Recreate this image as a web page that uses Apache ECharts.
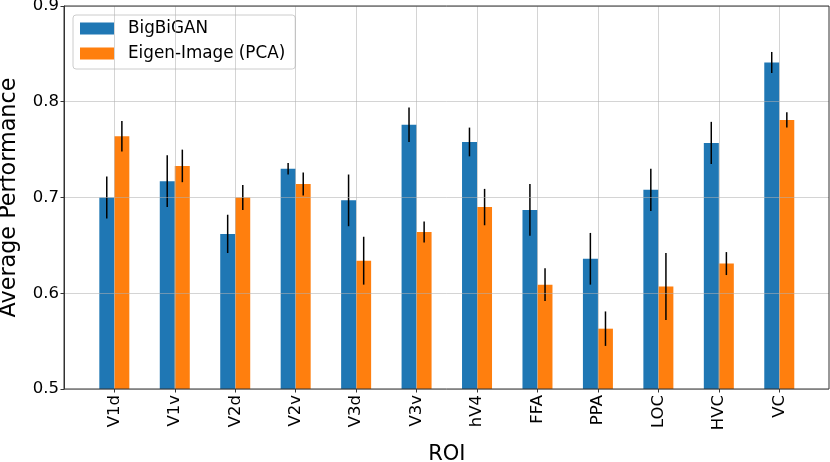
<!DOCTYPE html>
<html>
<head>
<meta charset="utf-8">
<script src="https://cdn.jsdelivr.net/npm/echarts@6/dist/echarts.min.js"></script>
<style>html,body{margin:0;padding:0;background:#fff;}#c{width:830px;height:462px;}</style>
</head>
<body>
<div id="c"></div>
<script>
const categories = ['V1d','V1v','V2d','V2v','V3d','V3v','hV4','FFA','PPA','LOC','HVC','VC'];
const bigbiganMean = [0.700,0.717,0.662,0.730,0.697,0.776,0.758,0.687,0.636,0.708,0.757,0.841];
const bigbiganErr  = [0.022,0.027,0.020,0.006,0.027,0.018,0.015,0.027,0.027,0.022,0.022,0.011];
const pcaMean = [0.764,0.733,0.700,0.714,0.634,0.664,0.690,0.609,0.563,0.607,0.631,0.781];
const pcaErr  = [0.016,0.017,0.013,0.012,0.025,0.011,0.019,0.017,0.018,0.035,0.012,0.008];
const yTicks = [0.5,0.6,0.7,0.8,0.9];

const FONT = 'DejaVu Sans';
const chart = echarts.init(document.getElementById('c'), null, {renderer:'canvas'});

function errSeries(means, errs, side){
  return {
    type:'custom', xAxisIndex:1, yAxisIndex:1, z:4,
    data: means.map((m,i)=>[i, m-errs[i], m+errs[i]]),
    renderItem: function(params, api){
      const i = api.value(0);
      const lo = api.coord([i, api.value(1)]);
      const hi = api.coord([i, api.value(2)]);
      const bw = api.size([1,0])[0];
      const dx = side*bw*0.125;
      return {type:'line', shape:{x1:lo[0]+dx, y1:lo[1], x2:hi[0]+dx, y2:hi[1]},
              style:{stroke:'#000', lineWidth:1.5}};
    }
  };
}

const option = {
  animation:false,
  textStyle:{fontFamily:FONT},
  grid:[
    {left:64, top:6, width:765, height:383, show:true, borderColor:'#333', borderWidth:1, z:10,
     backgroundColor:'transparent', outerBoundsMode:'none', containLabel:false},
    {left:84.1, top:6, width:725.4, height:383, outerBoundsMode:'none', containLabel:false}
  ],
  legend:{
    left:73, top:15, orient:'vertical', itemWidth:34, itemHeight:12, itemGap:6,
    padding:[4,10,6,7], backgroundColor:'rgba(255,255,255,0.8)', borderColor:'#cccccc', borderWidth:1, borderRadius:3,
    icon:'rect',
    textStyle:{fontFamily:FONT, fontSize:16.8, color:'#000', lineHeight:19, padding:[0,0,0,9]},
    data:['BigBiGAN','Eigen-Image (PCA)']
  },
  xAxis:[
    {type:'value', gridIndex:0, min:0, max:1, show:false},
    {type:'category', gridIndex:1, data:categories, boundaryGap:true, z:5,
     axisLine:{show:false},
     axisTick:{show:true, alignWithLabel:true, length:3.5, inside:false, lineStyle:{color:'#333'}},
     axisLabel:{rotate:90, margin:6, fontFamily:FONT, fontSize:16.5, color:'#000'},
     splitLine:{show:true, alignWithLabel:true, lineStyle:{color:'rgba(176,176,176,0.55)', width:1}},
     name:'ROI', nameLocation:'middle', nameGap:55, nameMoveOverlap:false,
     nameTextStyle:{fontFamily:FONT, fontSize:21, color:'#000'}}
  ],
  yAxis:[
    {type:'value', gridIndex:0, min:0.5, max:0.9, interval:0.1, z:5,
     axisLine:{show:true, lineStyle:{color:'#333'}},
     axisTick:{show:true, length:3.5, lineStyle:{color:'#333'}},
     axisLabel:{margin:5, fontFamily:FONT, fontSize:16.5, color:'#000', formatter:v=>v.toFixed(1)},
     splitLine:{show:true, lineStyle:{color:'rgba(176,176,176,0.55)', width:1}},
     name:'Average Performance', nameLocation:'middle', nameGap:44, nameMoveOverlap:false,
     nameTextStyle:{fontFamily:FONT, fontSize:22.3, color:'#000'}},
    {type:'value', gridIndex:1, min:0.5, max:0.9, show:false, splitLine:{show:false}}
  ],
  series:[
    {name:'BigBiGAN', type:'bar', xAxisIndex:1, yAxisIndex:1, data:bigbiganMean, barWidth:15, barGap:'0%',
     itemStyle:{color:'#1f77b4'}},
    {name:'Eigen-Image (PCA)', type:'bar', xAxisIndex:1, yAxisIndex:1, data:pcaMean, barWidth:15, barGap:'0%',
     itemStyle:{color:'#ff7f0e'}},
    errSeries(bigbiganMean, bigbiganErr, -1),
    errSeries(pcaMean, pcaErr, 1)
  ]
};
chart.setOption(option);
</script>
</body>
</html>
